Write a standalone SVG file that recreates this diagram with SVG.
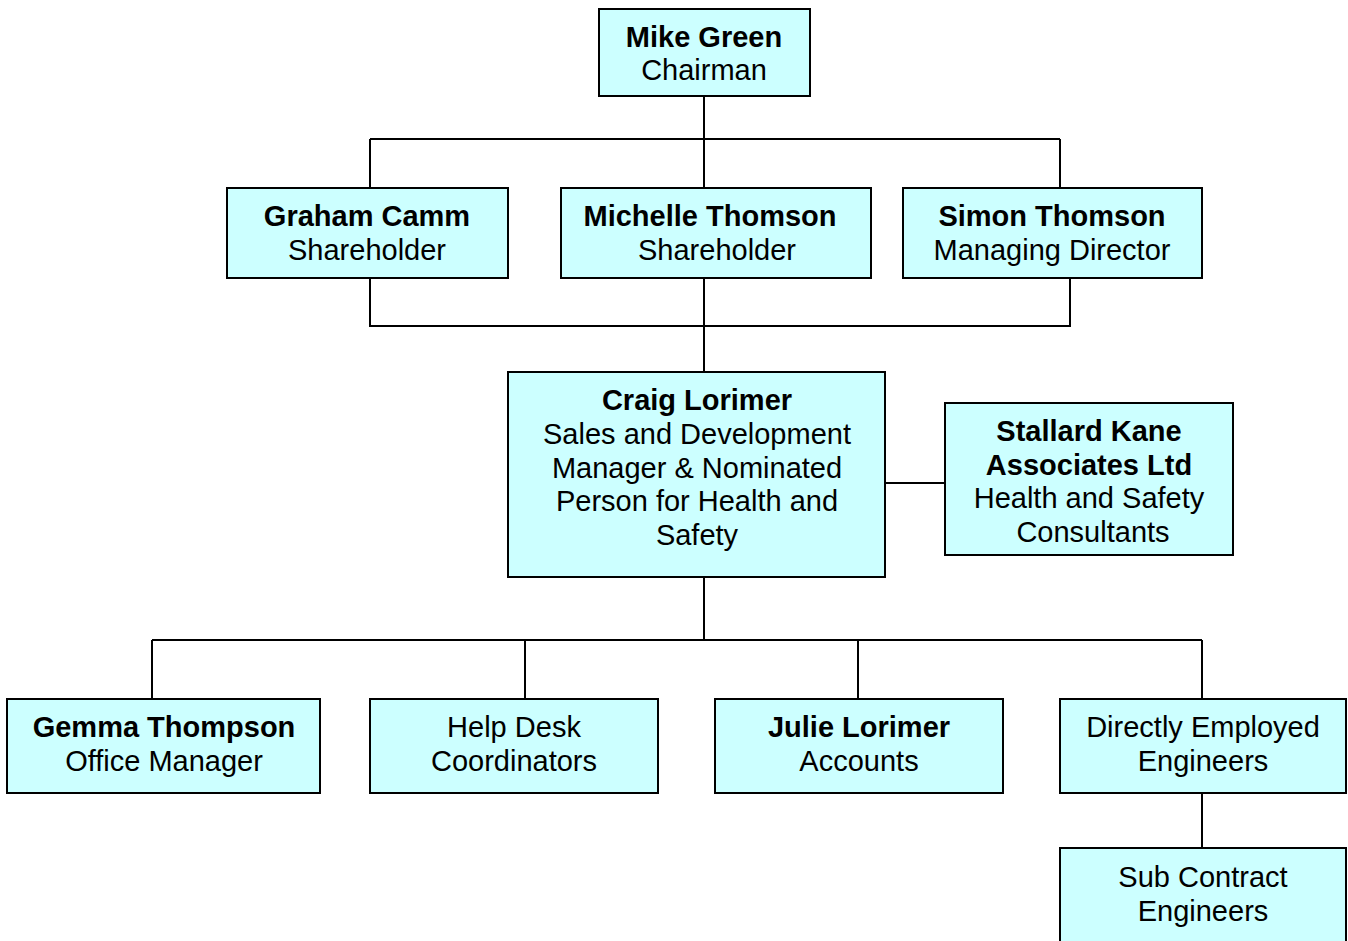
<svg xmlns="http://www.w3.org/2000/svg" width="1348" height="941" viewBox="0 0 1348 941">
<style>
.box{fill:#CCFFFF;stroke:#000;stroke-width:2}
.ln{fill:none;stroke:#000;stroke-width:2}
text{font-family:"Liberation Sans",Arial,sans-serif;font-size:29px;fill:#000;text-anchor:middle}
.b{font-weight:bold}
</style>
<rect width="1348" height="941" fill="#fff"/>
<g id="connectors">
<path class="ln" d="M704 96V139M370 139H1060M370 139V188M704 139V188M1060 139V188"/>
<path class="ln" d="M370 278V326H1070V278M704 278V372"/>
<path class="ln" d="M885 483H945"/>
<path class="ln" d="M704 577V640M152 640H1202M152 640V699M525 640V699M858 640V699M1202 640V699"/>
<path class="ln" d="M1202 793V848"/>
</g>
<g id="mike"><rect class="box" x="599" y="9" width="211" height="87"/><text x="704" y="47" class="b">Mike Green</text><text x="704" y="80">Chairman</text></g>
<g id="graham"><rect class="box" x="227" y="188" width="281" height="90"/><text x="367" y="226" class="b">Graham Camm</text><text x="367" y="260">Shareholder</text></g>
<g id="michelle"><rect class="box" x="561" y="188" width="310" height="90"/><text x="710" y="226" class="b">Michelle Thomson</text><text x="717" y="260">Shareholder</text></g>
<g id="simon"><rect class="box" x="903" y="188" width="299" height="90"/><text x="1052" y="226" class="b">Simon Thomson</text><text x="1052" y="260">Managing Director</text></g>
<g id="craig"><rect class="box" x="508" y="372" width="377" height="205"/><text x="697" y="410" class="b">Craig Lorimer</text><text x="697" y="444">Sales and Development</text><text x="697" y="478">Manager &amp; Nominated</text><text x="697" y="511">Person for Health and</text><text x="697" y="545">Safety</text></g>
<g id="stallard"><rect class="box" x="945" y="403" width="288" height="152"/><text x="1089" y="441" class="b">Stallard Kane</text><text x="1089" y="475" class="b">Associates Ltd</text><text x="1089" y="508">Health and Safety</text><text x="1093" y="542">Consultants</text></g>
<g id="gemma"><rect class="box" x="7" y="699" width="313" height="94"/><text x="164" y="737" class="b">Gemma Thompson</text><text x="164" y="771">Office Manager</text></g>
<g id="helpdesk"><rect class="box" x="370" y="699" width="288" height="94"/><text x="514" y="737">Help Desk</text><text x="514" y="771">Coordinators</text></g>
<g id="julie"><rect class="box" x="715" y="699" width="288" height="94"/><text x="859" y="737" class="b">Julie Lorimer</text><text x="859" y="771">Accounts</text></g>
<g id="direct"><rect class="box" x="1060" y="699" width="286" height="94"/><text x="1203" y="737">Directly Employed</text><text x="1203" y="771">Engineers</text></g>
<g id="subcontract"><rect class="box" x="1060" y="848" width="286" height="110"/><text x="1203" y="887">Sub Contract</text><text x="1203" y="921">Engineers</text></g>
</svg>
